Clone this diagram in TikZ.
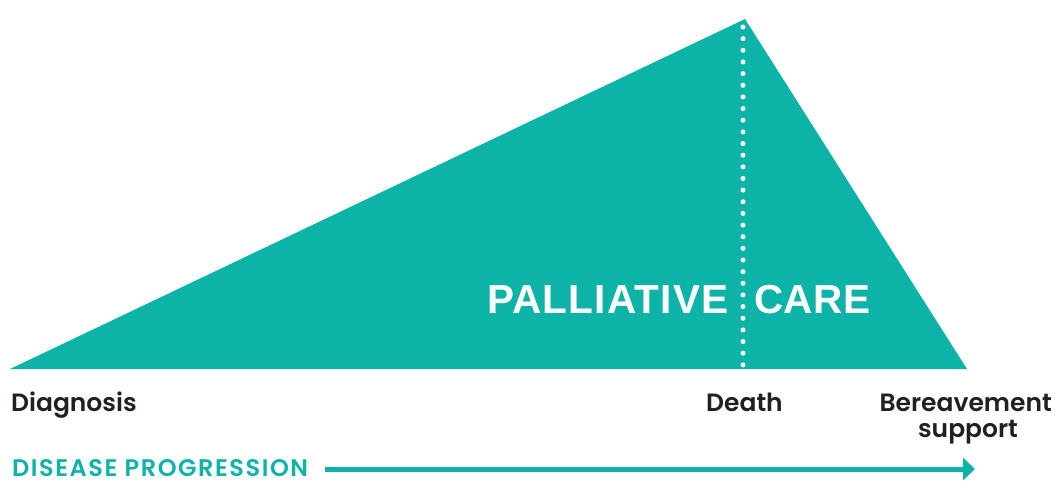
\documentclass[tikz,border=0pt]{standalone}
\usepackage{fontspec}
\setmainfont{Liberation Sans}
\newfontfamily\labfont{Poppins SemiBold}
\newfontfamily\progfont{Poppins SemiBold}[LetterSpace=6.5]
\newfontfamily\bigfont{Liberation Sans Bold}[LetterSpace=3]
\newfontfamily\bigfontb{Liberation Sans Bold}[LetterSpace=1]
\usetikzlibrary{arrows.meta}
\definecolor{teal1}{HTML}{0EB3A7}
\definecolor{ink}{HTML}{231F20}
\tikzset{
  tri/.style={fill=teal1, draw=none},
  dotline/.style={white, line width=5pt, line cap=round, dash pattern=on 0pt off 11.65pt},
  bigtxt/.style={text=white, font=\bigfont\fontsize{40.5}{40}\selectfont, inner sep=0pt},
  bigtxtb/.style={text=white, font=\bigfontb\fontsize{40.5}{40}\selectfont, inner sep=0pt},
  lab/.style={text=ink, font=\labfont\fontsize{25}{26}\selectfont, inner sep=0pt},
  prog/.style={text=teal1, font=\progfont\fontsize{24}{24}\selectfont, inner sep=0pt, text depth=0pt},
  progarrow/.style={draw=teal1, line width=5pt, -{Triangle[length=12pt,width=22pt]}}
}
\begin{document}
\begin{tikzpicture}[x=1pt,y=-1pt]
\useasboundingbox (0,0) rectangle (1055,480);
\coordinate (bl) at (10,369);
\coordinate (apex) at (745,19);
\coordinate (br) at (967,369);
\fill[tri] (bl) -- (apex) -- (br) -- cycle;
\coordinate (dtop) at (743,27);
\coordinate (dbot) at (743,365);
\draw[dotline] (dtop) -- (dbot);
\node[bigtxt, anchor=base west] (pal) at (487,313) {PALLIATIVE};
\node[bigtxtb, anchor=base west] (care) at (754,313) {CARE};
\node[lab, anchor=base west] (diag) at (11,411) {Diagnosis};
\node[lab, anchor=base west] (death) at (706,411) {Death};
\node[lab, anchor=base east] (ber) at (1052,411) {Bereavement};
\node[lab, anchor=base] (sup) at (968,437) {support};
\node[prog, anchor=base west] (dp) at (12,476) {DISEASE PROGRESSION};
\coordinate (as) at (325,469);
\coordinate (ae) at (975,469);
\draw[progarrow] (as) -- (ae);
\end{tikzpicture}
\end{document}
